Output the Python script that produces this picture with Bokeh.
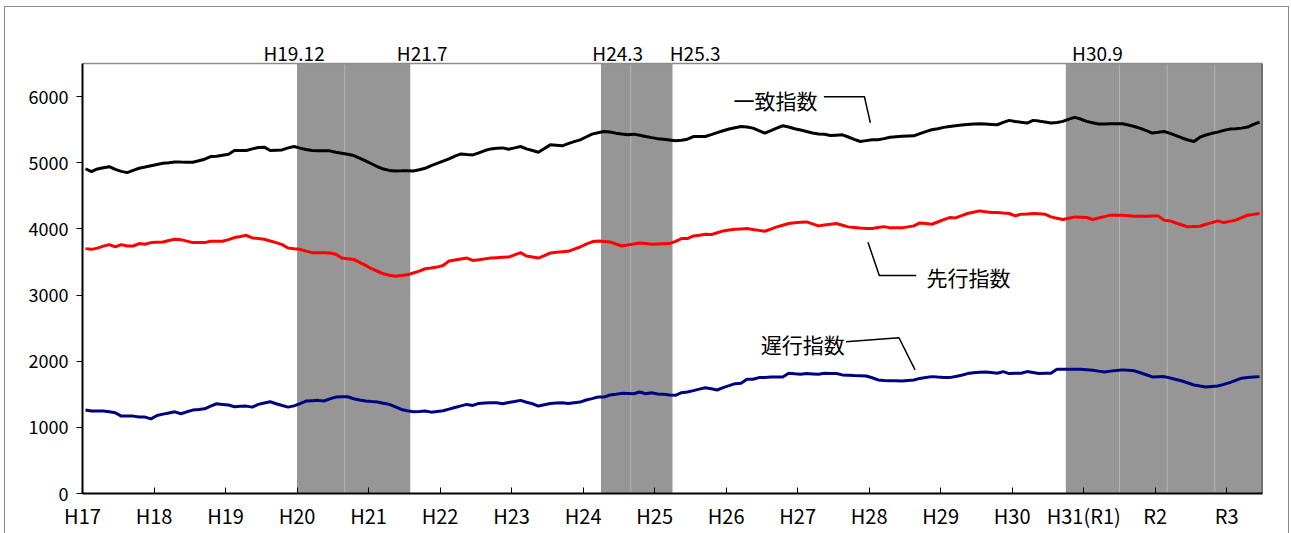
from bokeh.plotting import figure
from bokeh.models import Range1d, FixedTicker
from bokeh.embed import file_html
from bokeh.resources import INLINE
from bokeh.core.properties import value

FONT = "Noto Sans CJK JP"

year_labels = ["H17", "H18", "H19", "H20", "H21", "H22", "H23", "H24", "H25",
               "H26", "H27", "H28", "H29", "H30", "H31(R1)", "R2", "R3"]

# 一致指数 (monthly, H17.1 - R3.6)
coincident = [
    4910, 4866, 4906, 4925, 4941, 4900, 4870, 4851, 4885, 4917, 4935, 4955,
    4975, 4993, 5000, 5013, 5010, 5008, 5008, 5030, 5054, 5094, 5100, 5115,
    5130, 5185, 5185, 5185, 5210, 5231, 5236, 5185, 5190, 5195, 5225, 5246,
    5221, 5200, 5185, 5180, 5180, 5180, 5160, 5145, 5130, 5109, 5070, 5028,
    4985, 4940, 4905, 4885, 4876, 4878, 4881, 4876, 4895, 4917, 4957, 4990,
    5025, 5058, 5100, 5134, 5125, 5119, 5150, 5185, 5210, 5218, 5225, 5205,
    5225, 5246, 5210, 5185, 5160, 5215, 5271, 5265, 5256, 5290, 5320, 5347,
    5390, 5433, 5455, 5473, 5465, 5448, 5435, 5423, 5433, 5415, 5397, 5380,
    5365, 5357, 5345, 5332, 5340, 5357, 5397, 5397, 5397, 5425, 5455, 5484,
    5510, 5530, 5549, 5540, 5524, 5485, 5448, 5485, 5525, 5560, 5540, 5515,
    5495, 5473, 5450, 5435, 5430, 5413, 5418, 5423, 5390, 5355, 5322, 5335,
    5347, 5347, 5365, 5387, 5395, 5400, 5405, 5407, 5440, 5470, 5499, 5515,
    5535, 5549, 5560, 5570, 5578, 5585, 5590, 5585, 5580, 5575, 5610, 5641,
    5625, 5612, 5600, 5641, 5630, 5615, 5600, 5610, 5626, 5660, 5686, 5661,
    5626, 5605, 5585, 5588, 5590, 5590, 5590, 5570, 5549, 5520, 5485, 5449,
    5460, 5473, 5445, 5410, 5375, 5345, 5322, 5387, 5420, 5445, 5463, 5490,
    5509, 5515, 5524, 5540, 5580, 5616,
]

# 先行指数
leading = [
    3702, 3691, 3710, 3740, 3763, 3727, 3763, 3742, 3742, 3778, 3768, 3793,
    3798, 3803, 3825, 3843, 3838, 3815, 3793, 3793, 3793, 3813, 3813, 3813,
    3838, 3869, 3885, 3904, 3864, 3855, 3843, 3818, 3793, 3763, 3711, 3700,
    3691, 3665, 3641, 3640, 3638, 3636, 3616, 3559, 3549, 3539, 3495, 3448,
    3398, 3360, 3322, 3300, 3286, 3295, 3306, 3334, 3362, 3398, 3410, 3423,
    3448, 3515, 3530, 3545, 3559, 3524, 3535, 3547, 3559, 3565, 3570, 3575,
    3608, 3641, 3590, 3575, 3559, 3597, 3636, 3648, 3655, 3661, 3694, 3727,
    3770, 3805, 3818, 3810, 3803, 3772, 3742, 3758, 3773, 3788, 3778, 3768,
    3772, 3775, 3778, 3813, 3854, 3854, 3894, 3905, 3919, 3914, 3942, 3970,
    3983, 3995, 4000, 4005, 3990, 3978, 3965, 3998, 4031, 4056, 4081, 4094,
    4100, 4106, 4076, 4046, 4058, 4070, 4081, 4056, 4031, 4022, 4013, 4005,
    4005, 4020, 4035, 4016, 4016, 4016, 4031, 4046, 4091, 4081, 4071, 4105,
    4140, 4172, 4167, 4200, 4233, 4253, 4273, 4260, 4248, 4248, 4240, 4233,
    4197, 4223, 4226, 4233, 4228, 4223, 4182, 4162, 4142, 4162, 4182, 4177,
    4172, 4142, 4164, 4186, 4208, 4208, 4208, 4200, 4192, 4192, 4192, 4195,
    4197, 4132, 4121, 4090, 4060, 4031, 4036, 4041, 4071, 4096, 4121, 4096,
    4114, 4132, 4170, 4208, 4220, 4233,
]

# 遅行指数
lagging = [
    1261, 1246, 1246, 1246, 1235, 1220, 1170, 1170, 1170, 1155, 1155, 1129,
    1180, 1200, 1218, 1235, 1205, 1235, 1261, 1270, 1281, 1320, 1357, 1347,
    1337, 1311, 1318, 1321, 1306, 1347, 1367, 1387, 1357, 1330, 1306, 1325,
    1360, 1398, 1403, 1408, 1398, 1430, 1458, 1462, 1463, 1433, 1415, 1398,
    1390, 1383, 1365, 1347, 1310, 1271, 1250, 1235, 1240, 1246, 1230, 1240,
    1250, 1275, 1300, 1325, 1347, 1332, 1362, 1367, 1372, 1372, 1357, 1375,
    1390, 1408, 1380, 1357, 1322, 1342, 1362, 1367, 1372, 1362, 1372, 1382,
    1413, 1435, 1458, 1458, 1489, 1500, 1514, 1512, 1509, 1534, 1509, 1524,
    1505, 1499, 1490, 1484, 1524, 1534, 1555, 1578, 1600, 1583, 1565, 1600,
    1630, 1661, 1666, 1727, 1727, 1752, 1755, 1760, 1762, 1762, 1818, 1810,
    1803, 1813, 1808, 1803, 1818, 1815, 1813, 1793, 1788, 1783, 1780, 1777,
    1750, 1717, 1710, 1705, 1703, 1701, 1709, 1717, 1740, 1755, 1767, 1760,
    1755, 1752, 1770, 1787, 1813, 1825, 1832, 1838, 1828, 1818, 1843, 1813,
    1818, 1818, 1843, 1828, 1813, 1818, 1818, 1879, 1879, 1879, 1879, 1879,
    1872, 1864, 1850, 1838, 1850, 1860, 1869, 1862, 1854, 1825, 1795, 1762,
    1765, 1767, 1745, 1723, 1701, 1671, 1641, 1625, 1610, 1618, 1626, 1650,
    1676, 1710, 1743, 1752, 1760, 1767,
]

# recession shading (month boundaries, 0 = start of H17.1)
shade_start = [36, 87, 165]
shade_end = [55, 99, 198]
shade_splits = [44, 92, 174, 182, 190]

turn_labels = ["H19.12", "H21.7", "H24.3", "H25.3", "H30.9"]
turn_label_x = [35.5, 57.0, 89.8, 102.8, 170.3]
turn_label_y = [6660] * 5

series_names = ["一致指数", "先行指数", "遅行指数"]
name_x = [116.3, 141.6, 127.9]
name_y = [5955, 3266, 2263]
name_align = ["center", "left", "right"]
leader_xs = [[124.4, 131.2, 132.2], [131.8, 133.7, 139.9], [128.1, 137.0, 139.7]]
leader_ys = [[6000, 6000, 5605], [3798, 3296, 3296], [2294, 2355, 1868]]

Y_TOP = 6500
n = len(coincident)
months = [i + 0.5 for i in range(n)]

p = figure(width=1285, height=527, output_backend="svg", toolbar_location=None,
           x_range=Range1d(0, n), y_range=Range1d(0, 6894),
           min_border_left=77, min_border_right=28, min_border_top=30, min_border_bottom=41)
p.styles = {"margin": "6px 0 0 4px", "box-sizing": "border-box",
            "border-left": "1px solid #8c8c8c", "border-top": "1px solid #8c8c8c",
            "border-right": "1px solid #8c8c8c"}
p.xgrid.visible = False
p.ygrid.visible = False
p.outline_line_color = None
p.background_fill_color = "white"

p.quad(left=shade_start, right=shade_end, bottom=0, top=Y_TOP,
       fill_color="#969696", line_color=None)
p.segment(x0=shade_splits, x1=shade_splits, y0=[0] * len(shade_splits), y1=[Y_TOP] * len(shade_splits),
          line_color="#b4b4b4", line_width=1)

# plot-area frame: grey top edge, black right edge
p.segment(x0=[0], x1=[n], y0=[Y_TOP], y1=[Y_TOP], line_color="#8c8c8c", line_width=1.5)
p.segment(x0=[n], x1=[n], y0=[0], y1=[Y_TOP], line_color="black", line_width=1.5)

p.line(months, coincident, line_color="black", line_width=3)
p.line(months, leading, line_color="#ff0000", line_width=3)
p.line(months, lagging, line_color="#000080", line_width=3)

p.multi_line(xs=leader_xs, ys=leader_ys, line_color="black", line_width=1.5)
p.text(x=name_x, y=name_y, text=series_names, text_font=value(FONT), text_font_size="21px",
       text_align=name_align, text_baseline="middle", text_color="black")

p.text(x=turn_label_x, y=turn_label_y, text=turn_labels, text_font=value(FONT),
       text_font_size="19px", text_align="center", text_baseline="middle", text_color="black")

ax = p.xaxis[0]
ax.ticker = FixedTicker(ticks=[12 * i for i in range(len(year_labels))])
ax.major_label_overrides = {12 * i: lab for i, lab in enumerate(year_labels)}
ax.major_tick_in = 6
ax.major_tick_out = 0
ax.minor_tick_line_color = None
ax.axis_line_width = 2
ax.axis_line_color = "black"
ax.major_tick_line_color = "black"
ax.major_label_text_font = FONT
ax.major_label_text_font_size = "20px"
ax.major_label_text_color = "black"
ax.major_label_standoff = 7

ay = p.yaxis[0]
ay.ticker = FixedTicker(ticks=[0, 1000, 2000, 3000, 4000, 5000, 6000])
ay.bounds = (0, Y_TOP)
ay.major_tick_in = 0
ay.major_tick_out = 6
ay.minor_tick_line_color = None
ay.axis_line_width = 2
ay.axis_line_color = "black"
ay.major_tick_line_color = "black"
ay.major_label_text_font = FONT
ay.major_label_text_font_size = "18px"
ay.major_label_text_color = "black"
ay.major_label_standoff = 8

open("out.html", "w").write(file_html(p, INLINE))
